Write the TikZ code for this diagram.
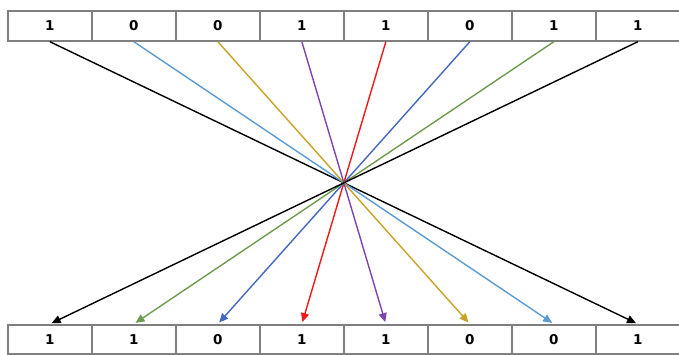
\documentclass[tikz,border=0pt]{standalone}
\usepackage{fontspec}
\setmainfont{DejaVu Sans}
\usetikzlibrary{arrows.meta}
\definecolor{cgray}{HTML}{7F7F7F}
\definecolor{cltblue}{HTML}{5B9BD5}
\definecolor{cgold}{HTML}{C9A227}
\definecolor{cpurple}{HTML}{7F44B0}
\definecolor{cred}{HTML}{F01818}
\definecolor{cblue}{HTML}{4468C0}
\definecolor{cgreen}{HTML}{6E9B4E}
\tikzset{
  bitbox/.style={draw=cgray, line width=1.7pt, minimum width=84pt, minimum height=30pt,
    inner sep=0pt, font=\fontsize{13.5}{15}\selectfont\bfseries, anchor=north west},
  wire/.style={line width=1.4pt, -{Triangle[length=9pt,width=8pt]}, shorten >=2pt}
}
\begin{document}
\begin{tikzpicture}[x=1pt,y=-1pt]
\useasboundingbox (0,0) rectangle (679,354);
\foreach \b [count=\i] in {1,0,0,1,1,0,1,1}{
  \node[bitbox] (t\i) at ({7+84*(\i-1)},10) {\b};
}
\foreach \b [count=\i] in {1,1,0,1,1,0,0,1}{
  \node[bitbox, minimum height=29pt] (b\i) at ({7+84*(\i-1)},324) {\b};
}
\draw[wire, black]   (t1.south) -- (b8.north);
\draw[wire, cltblue] (t2.south) -- (b7.north);
\draw[wire, cgold]   (t3.south) -- (b6.north);
\draw[wire, cpurple] (t4.south) -- (b5.north);
\draw[wire, cred]    (t5.south) -- (b4.north);
\draw[wire, cblue]   (t6.south) -- (b3.north);
\draw[wire, cgreen]  (t7.south) -- (b2.north);
\draw[wire, black]   (t8.south) -- (b1.north);
\end{tikzpicture}
\end{document}
